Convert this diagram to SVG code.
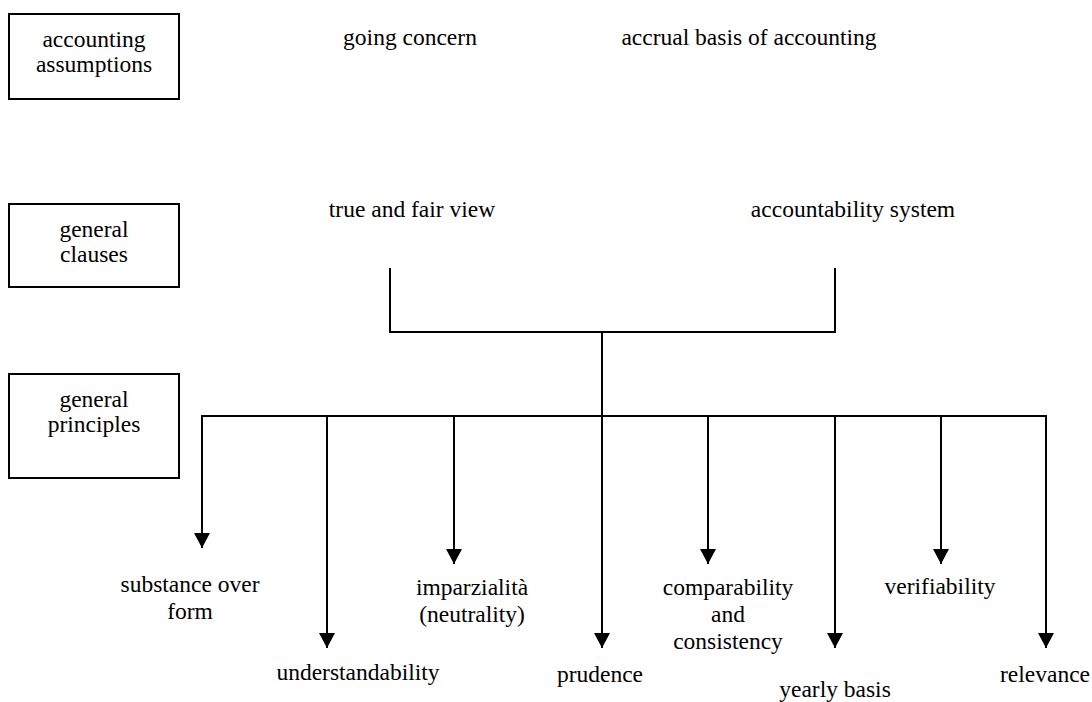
<svg xmlns="http://www.w3.org/2000/svg" width="1092" height="702" viewBox="0 0 1092 702">
<style>
text{font-family:"Liberation Serif","Times New Roman",serif;font-size:23.5px;fill:#000;text-anchor:middle}
.box{fill:#fff;stroke:#000;stroke-width:2}
.ln{fill:none;stroke:#000;stroke-width:2}
</style>
<defs>
<marker id="ah" markerUnits="userSpaceOnUse" markerWidth="16" markerHeight="16" refX="8" refY="15" orient="auto-start-reverse" viewBox="0 0 16 16">
<path d="M0,0 L16,0 L8,15 Z" fill="#000" transform="rotate(-90 8 8)"/>
</marker>
<marker id="ad" markerUnits="userSpaceOnUse" markerWidth="16" markerHeight="16" refX="8" refY="15" orient="0" viewBox="0 0 16 16">
<path d="M0,0 L16,0 L8,15 Z" fill="#000"/>
</marker>
</defs>
<rect width="1092" height="702" fill="#fff"/>
<g id="assumptions">
<rect class="box" x="9" y="14" width="170" height="85"/>
<text x="94" y="47">accounting</text>
<text x="94" y="72">assumptions</text>
</g>
<g id="clauses">
<rect class="box" x="9" y="204" width="170" height="83"/>
<text x="94" y="237">general</text>
<text x="94" y="262">clauses</text>
</g>
<g id="principles">
<rect class="box" x="9" y="374" width="170" height="104"/>
<text x="94" y="407">general</text>
<text x="94" y="432">principles</text>
</g>
<g id="going-concern"><text x="410" y="45">going concern</text></g>
<g id="accrual"><text x="749" y="45">accrual basis of accounting</text></g>
<g id="true-fair"><text x="412" y="217">true and fair view</text></g>
<g id="accountability"><text x="853" y="217">accountability system</text></g>
<g id="substance"><text x="190" y="592">substance over</text><text x="190" y="619">form</text></g>
<g id="understandability"><text x="358" y="680">understandability</text></g>
<g id="imparzialita"><text x="472" y="595">imparzialità</text><text x="472" y="622">(neutrality)</text></g>
<g id="prudence"><text x="600" y="682">prudence</text></g>
<g id="comparability"><text x="728" y="595">comparability</text><text x="728" y="622">and</text><text x="728" y="649">consistency</text></g>
<g id="yearly"><text x="835" y="697">yearly basis</text></g>
<g id="verifiability"><text x="940" y="594">verifiability</text></g>
<g id="relevance"><text x="1045" y="682">relevance</text></g>
<g id="connectors">
<path class="ln" d="M390,268 V332 H835 V268"/>
<path class="ln" d="M602,332 V416"/>
<path class="ln" d="M201,416 H1047"/>
<line class="ln" x1="202" y1="416" x2="202" y2="548" marker-end="url(#ad)"/>
<line class="ln" x1="327" y1="416" x2="327" y2="648" marker-end="url(#ad)"/>
<line class="ln" x1="454" y1="416" x2="454" y2="564" marker-end="url(#ad)"/>
<line class="ln" x1="602" y1="416" x2="602" y2="648" marker-end="url(#ad)"/>
<line class="ln" x1="708" y1="416" x2="708" y2="564" marker-end="url(#ad)"/>
<line class="ln" x1="835" y1="416" x2="835" y2="648" marker-end="url(#ad)"/>
<line class="ln" x1="941" y1="416" x2="941" y2="564" marker-end="url(#ad)"/>
<line class="ln" x1="1046" y1="416" x2="1046" y2="648" marker-end="url(#ad)"/>
</g>
</svg>
